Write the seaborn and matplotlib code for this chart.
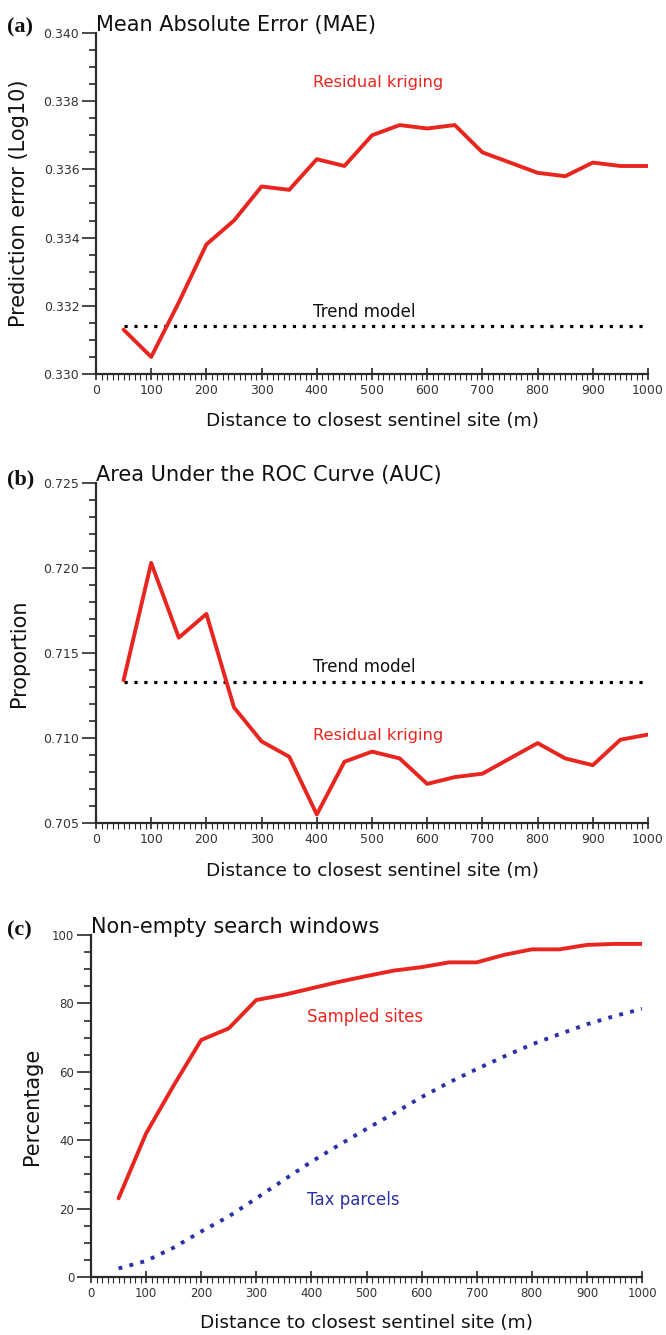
import matplotlib
matplotlib.use("Agg")
import matplotlib.pyplot as plt
import seaborn as sns
import pandas as pd
from matplotlib.ticker import MultipleLocator, FormatStrFormatter

sns.set_style("ticks")
plt.rcParams["font.family"] = ["DejaVu Sans"]

# Distance to closest sentinel site (m)
distance = [50, 100, 150, 200, 250, 300, 350, 400, 450, 500,
            550, 600, 650, 700, 750, 800, 850, 900, 950, 1000]

# (a) Mean absolute error, log10 scale
mae_kriging = [0.3313, 0.3305, 0.3321, 0.3338, 0.3345, 0.3355, 0.3354, 0.3363, 0.3361, 0.3370,
               0.3373, 0.3372, 0.3373, 0.3365, 0.3362, 0.3359, 0.3358, 0.3362, 0.3361, 0.3361]
mae_trend = 0.3314

# (b) Area under the ROC curve
auc_kriging = [0.7134, 0.7203, 0.7159, 0.7173, 0.7118, 0.7098, 0.7089, 0.7055, 0.7086, 0.7092,
               0.7088, 0.7073, 0.7077, 0.7079, 0.7088, 0.7097, 0.7088, 0.7084, 0.7099, 0.7102]
auc_trend = 0.7133

# (c) Percentage of non-empty search windows
sampled_sites = [23.0, 42.0, 56.0, 69.3, 72.7, 81.0, 82.5, 84.4, 86.3, 88.0,
                 89.6, 90.6, 92.0, 92.0, 94.2, 95.8, 95.8, 97.1, 97.4, 97.4]
tax_parcels = [2.5, 4.7, 8.6, 13.3, 17.7, 23.0, 28.4, 33.7, 38.6, 43.3,
               47.9, 52.6, 56.9, 60.8, 64.5, 68.0, 71.0, 73.9, 76.3, 78.4]

RED = "#e8261f"
BLUE = "#2b31a6"
INK = "#2a2a2a"

W, H = 666, 1335
fig = plt.figure(figsize=(W / 100, H / 100), dpi=100)


def add_axes(left, top, right, bottom):
    return fig.add_axes([left / W, 1 - bottom / H, (right - left) / W, (bottom - top) / H])


def style(ax, ylim, ymajor, yminor, yfmt, ticksize, xlabel_y, ylabel_x):
    ax.set_xlim(0, 1000)
    ax.set_ylim(*ylim)
    ax.xaxis.set_major_locator(MultipleLocator(100))
    ax.xaxis.set_minor_locator(MultipleLocator(10))
    ax.yaxis.set_major_locator(MultipleLocator(ymajor))
    ax.yaxis.set_minor_locator(MultipleLocator(yminor))
    ax.yaxis.set_major_formatter(FormatStrFormatter(yfmt))
    sns.despine(ax=ax)
    for side in ("left", "bottom"):
        ax.spines[side].set_linewidth(1.6)
        ax.spines[side].set_color(INK)
    ax.tick_params(axis="y", which="major", direction="out", length=10, width=1.2,
                   pad=2, labelsize=ticksize, color=INK, labelcolor="#333333")
    ax.tick_params(axis="y", which="minor", direction="out", length=5, width=1.2, color=INK)
    ax.tick_params(axis="x", which="major", direction="inout", length=8, width=1.2,
                   pad=3, labelsize=ticksize, color=INK, labelcolor="#333333")
    ax.tick_params(axis="x", which="minor", direction="out", length=4, width=0.8, color=INK)
    ax.set_xlabel("Distance to closest sentinel site (m)", fontsize=13.3, color="#111111")
    ax.xaxis.set_label_coords(0.5, xlabel_y)
    ax.yaxis.set_label_coords(ylabel_x, 0.5)


def heading(ax, title, ax_height):
    ax.text(0.0, 1 + 2 / ax_height, title, transform=ax.transAxes, ha="left",
            va="baseline", fontsize=15, color="#111111")


def panel_letter(text, y_px):
    fig.text(7 / W, 1 - y_px / H, text, fontfamily="Liberation Serif", fontweight="bold",
             fontsize=16, ha="left", va="baseline", color="#111111")


# ---- (a) MAE ----
ax_a = add_axes(96, 33, 648, 374)
df_a = pd.DataFrame({"distance": distance, "kriging": mae_kriging,
                     "trend": [mae_trend] * len(distance)})
sns.lineplot(data=df_a, x="distance", y="trend", ax=ax_a, color="black", lw=2.3,
             linestyle=(0, (1, 2.1)))
sns.lineplot(data=df_a, x="distance", y="kriging", ax=ax_a, color=RED, lw=2.8)
style(ax_a, (0.330, 0.340), 0.002, 0.0005, "%.3f", 9, -0.112, -0.122)
ax_a.set_ylabel("Prediction error (Log10)", fontsize=15, color="#111111")
ax_a.text(393, 0.33856, "Residual kriging", color=RED, fontsize=11.7, va="center", ha="left")
ax_a.text(393, 0.33182, "Trend model", color="#111111", fontsize=12, va="center", ha="left")
heading(ax_a, "Mean Absolute Error (MAE)", 341)
panel_letter("(a)", 32)

# ---- (b) AUC ----
ax_b = add_axes(96, 483, 648, 823)
df_b = pd.DataFrame({"distance": distance, "kriging": auc_kriging,
                     "trend": [auc_trend] * len(distance)})
sns.lineplot(data=df_b, x="distance", y="trend", ax=ax_b, color="black", lw=2.3,
             linestyle=(0, (1, 2.1)))
sns.lineplot(data=df_b, x="distance", y="kriging", ax=ax_b, color=RED, lw=2.8)
style(ax_b, (0.705, 0.725), 0.005, 0.001, "%.3f", 9, -0.114, -0.122)
ax_b.set_ylabel("Proportion", fontsize=15, color="#111111")
ax_b.text(393, 0.71418, "Trend model", color="#111111", fontsize=12, va="center", ha="left")
ax_b.text(393, 0.71012, "Residual kriging", color=RED, fontsize=11.7, va="center", ha="left")
heading(ax_b, "Area Under the ROC Curve (AUC)", 340)
panel_letter("(b)", 484)

# ---- (c) Non-empty search windows ----
ax_c = add_axes(91, 935, 642, 1277)
df_c = pd.DataFrame({"distance": distance, "sampled": sampled_sites, "parcels": tax_parcels})
sns.lineplot(data=df_c, x="distance", y="parcels", ax=ax_c, color=BLUE, lw=2.8,
             linestyle=(0, (1, 1.9)))
sns.lineplot(data=df_c, x="distance", y="sampled", ax=ax_c, color=RED, lw=2.8)
style(ax_c, (0, 100), 20, 5, "%d", 8.5, -0.108, -0.089)
ax_c.set_ylabel("Percentage", fontsize=15, color="#111111")
ax_c.text(392, 76.1, "Sampled sites", color=RED, fontsize=11.9, va="center", ha="left")
ax_c.text(392, 22.5, "Tax parcels", color=BLUE, fontsize=12, va="center", ha="left")
heading(ax_c, "Non-empty search windows", 342)
panel_letter("(c)", 935)

fig.savefig("out.png", dpi=100)
